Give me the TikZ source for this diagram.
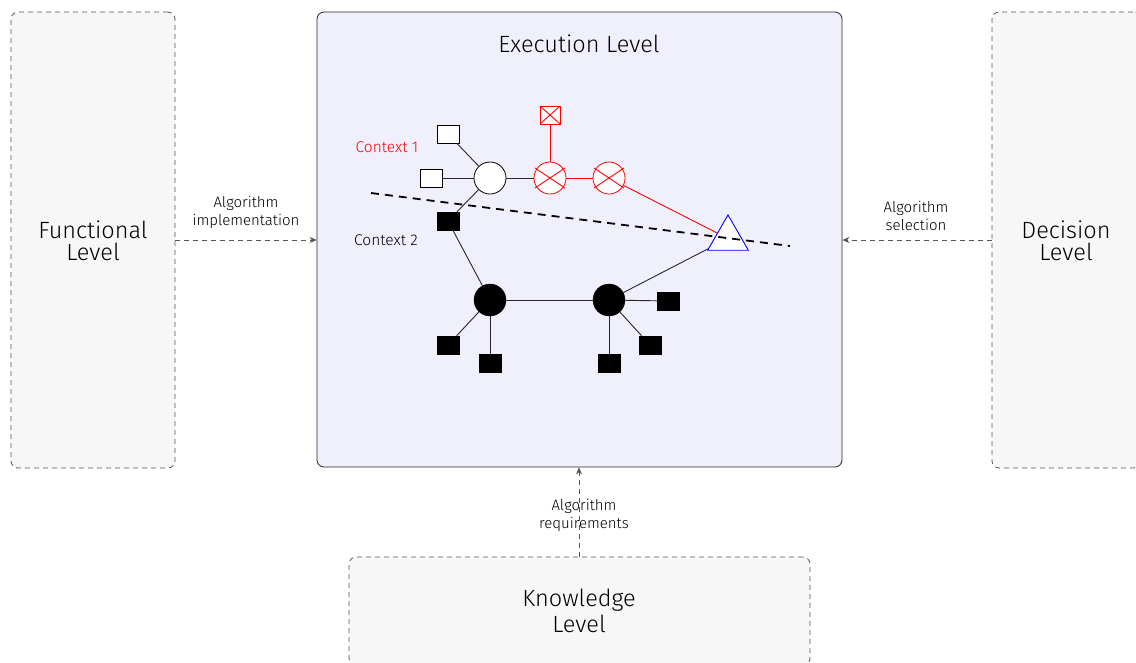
\documentclass[tikz,border=0pt]{standalone}
\usepackage{fontspec}
\setmainfont{Fira Sans Light}
\usetikzlibrary{shapes.geometric,arrows.meta}
\definecolor{levelfill}{HTML}{F7F7F7}
\definecolor{execfill}{HTML}{F0F0FC}
\definecolor{dashgray}{HTML}{555555}
\tikzset{
  levelbox/.style={draw=dashgray, dashed, dash pattern=on 5pt off 4pt, fill=levelfill, rounded corners=7pt, line width=0.8pt, inner sep=0pt},
  execbox/.style={draw=black!85, fill=execfill, rounded corners=7pt, line width=0.8pt, inner sep=0pt},
  bigtext/.style={font=\fontsize{23.5}{22}\selectfont, align=center},
  smalltext/.style={font=\fontsize{15}{18}\selectfont, align=center},
  ctxtext/.style={font=\fontsize{15.5}{18}\selectfont},
  flow/.style={draw=dashgray, dashed, dash pattern=on 5pt off 4pt, line width=0.8pt, -{Stealth[length=7pt,width=6pt]}},
  wsq/.style={rectangle, draw=black, fill=white, minimum width=22pt, minimum height=18pt, inner sep=0pt, line width=0.8pt},
  bsq/.style={rectangle, draw=black, fill=black, minimum width=22pt, minimum height=18pt, inner sep=0pt},
  wcirc/.style={circle, draw=black, fill=white, minimum size=32pt, inner sep=0pt, line width=0.8pt},
  bcirc/.style={circle, draw=black, fill=black, minimum size=32pt, inner sep=0pt},
  rcirc/.style={circle, draw=red, fill=white, minimum size=32pt, inner sep=0pt, line width=0.8pt},
  rsq/.style={rectangle, draw=red, fill=white, minimum width=20pt, minimum height=18pt, inner sep=0pt, outer sep=0pt, line width=0.8pt},
  edge/.style={draw=black!85, line width=0.9pt},
  redge/.style={draw=red, line width=0.9pt},
  tri/.style={regular polygon, regular polygon sides=3, draw=blue, fill=white, minimum size=47pt, inner sep=0pt, line width=0.9pt},
}
\begin{document}
\begin{tikzpicture}[x=1pt,y=-1pt]
\useasboundingbox (0,0) rectangle (1136,662);
\clip (0,0) rectangle (1136,662);
% level boxes
\node[levelbox, minimum width=164pt, minimum height=456pt] (func) at (93,240) {};
\node[bigtext] (functxt) at (93,241) {Functional\\Level};
\node[levelbox, minimum width=148pt, minimum height=456pt] (dec) at (1066,240) {};
\node[bigtext] (dectxt) at (1066,241) {Decision\\Level};
\node[levelbox, minimum width=461pt, minimum height=108pt] (know) at (579.5,611) {};
\node[bigtext, font=\fontsize{23.5}{26}\selectfont] (knowtxt) at (579,611) {Knowledge\\Level};
\node[execbox, minimum width=525pt, minimum height=455pt] (exec) at (579.5,239.5) {};
\node[bigtext] (exectxt) at (579,44) {Execution Level};
% flows
\draw[flow] (func.east |- 0,240) -- (exec.west |- 0,240);
\node[smalltext] (implab) at (246,212) {Algorithm\\implementation};
\draw[flow] (dec.west |- 0,240) -- (exec.east |- 0,240);
\node[smalltext] (sellab) at (916,216) {Algorithm\\selection};
\draw[flow] (know.north -| 579,0) -- (exec.south -| 579,0);
\node[smalltext] (reqlab) at (584,515) {Algorithm\\requirements};
% context labels
\node[ctxtext, text=red] (ctx1) at (387,147) {Context 1};
\node[ctxtext] (ctx2) at (386,240) {Context 2};
% graph nodes
\node[wcirc] (wc) at (490,178) {};
\node[wsq] (ws1) at (448,134) {};
\node[wsq] (ws2) at (431,178) {};
\node[bsq] (bs0) at (448,221) {};
\node[rcirc] (rc1) at (550,178) {};
\node[rcirc] (rc2) at (609,178) {};
\node[rsq] (rs) at (550,115) {};
\node[tri] (tr) at (728,238.5) {};
\node[bcirc] (bc1) at (490,300) {};
\node[bcirc] (bc2) at (609,300) {};
\node[bsq] (bs1) at (448,345) {};
\node[bsq] (bs2) at (490,363) {};
\node[bsq] (bs3) at (609,363) {};
\node[bsq] (bs4) at (650,345) {};
\node[bsq] (bs5) at (668,301) {};
% edges
\draw[edge] (wc) -- (ws1);
\draw[edge] (wc) -- (ws2);
\draw[edge] (wc) -- (bs0);
\draw[edge] (wc) -- (rc1);
\draw[redge] (rc1) -- (rs);
\draw[redge] (rc1) -- (rc2);
\draw[redge] (rc2) -- (tr);
\draw[edge] (bs0) -- (bc1);
\draw[edge] (bc1) -- (bc2);
\draw[edge] (bc2) -- (tr);
\draw[edge] (bc1) -- (bs1);
\draw[edge] (bc1) -- (bs2);
\draw[edge] (bc2) -- (bs3);
\draw[edge] (bc2) -- (bs4);
\draw[edge] (bc2) -- (bs5);
% crosses
\draw[redge] (rs.north west) -- (rs.south east);
\draw[redge] (rs.south west) -- (rs.north east);
\draw[redge] (rc1.center) ++(-15,-10) -- ++(30,20);
\draw[redge] (rc1.center) ++(-15,10) -- ++(30,-20);
\draw[redge] (rc2.center) ++(-15,-10) -- ++(30,20);
\draw[redge] (rc2.center) ++(-15,10) -- ++(30,-20);
% context divider
\coordinate (d1) at (371,193);
\coordinate (d2) at (790,246);
\draw[line width=1.8pt, dash pattern=on 8pt off 6pt] (d1) -- (d2);
\end{tikzpicture}
\end{document}
